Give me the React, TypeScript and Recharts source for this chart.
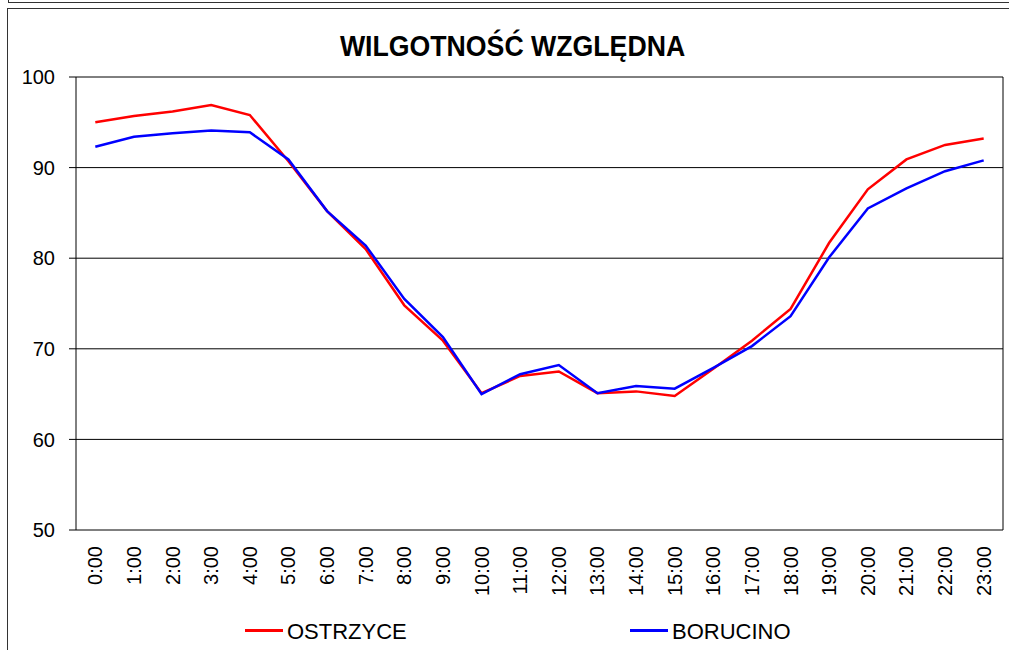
import React from 'react';
import { LineChart, Line, XAxis, YAxis, CartesianGrid, Legend, ReferenceLine } from 'recharts';

const hours = [
  '0:00', '1:00', '2:00', '3:00', '4:00', '5:00', '6:00', '7:00', '8:00', '9:00', '10:00', '11:00',
  '12:00', '13:00', '14:00', '15:00', '16:00', '17:00', '18:00', '19:00', '20:00', '21:00', '22:00', '23:00',
];
const ostrzyce = [
  95.0, 95.7, 96.2, 96.9, 95.8, 90.7, 85.2, 81.0, 74.8, 70.9, 65.1, 67.0,
  67.5, 65.1, 65.3, 64.8, 67.8, 70.9, 74.4, 81.7, 87.6, 90.9, 92.5, 93.2,
];
const borucino = [
  92.3, 93.4, 93.8, 94.1, 93.9, 90.9, 85.2, 81.4, 75.5, 71.3, 65.0, 67.2,
  68.2, 65.1, 65.9, 65.6, 67.9, 70.3, 73.6, 80.1, 85.5, 87.7, 89.6, 90.8,
];
const yTicks = [50, 60, 70, 80, 90, 100];

const data = hours.map((hour, i) => ({ i, hour, ostrzyce: ostrzyce[i], borucino: borucino[i] }));
const hourTicks = hours.map((_, i) => i);
const bandEdges = [...hourTicks.map((i) => i - 0.5), hours.length - 0.5];

const FONT = '"Liberation Sans", Arial, sans-serif';

const HourTick = ({ x, y, payload }: any) => (
  <text
    x={x}
    y={y}
    transform={`rotate(-90 ${x} ${y})`}
    textAnchor="end"
    dominantBaseline="central"
    fontSize={20}
    fontFamily={FONT}
    fill="#000"
  >
    {hours[payload.value]}
  </text>
);

const LegendBox = () => (
  <div style={{ position: 'relative', height: 30, width: 1009, fontFamily: FONT, fontSize: 22 }}>
    <div style={{ position: 'absolute', left: 245, top: 9, width: 38, height: 3, background: '#ff0000' }} />
    <div style={{ position: 'absolute', left: 287, top: -3, lineHeight: '30px' }}>OSTRZYCE</div>
    <div style={{ position: 'absolute', left: 630, top: 9, width: 38, height: 3, background: '#0000ff' }} />
    <div style={{ position: 'absolute', left: 672, top: -3, lineHeight: '30px' }}>BORUCINO</div>
  </div>
);

export default function App() {
  return (
    <div style={{ position: 'absolute', left: 0, top: 0, width: 1009, height: 650, background: '#fff', overflow: 'hidden' }}>
      <div style={{ position: 'absolute', left: 8, top: -10, width: 1020, height: 13, border: '1px solid #333', boxSizing: 'border-box' }} />
      <div style={{ position: 'absolute', left: 7, top: 8, width: 1020, height: 700, border: '1px solid #333', boxSizing: 'border-box' }} />
      <div
        style={{
          position: 'absolute',
          left: 0,
          width: 1025,
          top: 30,
          textAlign: 'center',
          fontFamily: FONT,
          fontWeight: 'bold',
          fontSize: 29,
          lineHeight: '33px',
          transform: 'scaleX(0.92)',
          transformOrigin: '513px 0',
        }}
      >
        WILGOTNOŚĆ WZGLĘDNA
      </div>
      <div style={{ position: 'absolute', left: 0, top: 0 }}>
        <LineChart width={1009} height={650} data={data} margin={{ top: 77, right: 6, left: 0, bottom: 0 }}>
          <CartesianGrid vertical={false} stroke="#000" strokeOpacity={1} />
          <XAxis
            xAxisId="edges"
            dataKey="i"
            type="number"
            domain={[-0.5, 23.5]}
            ticks={bandEdges}
            tick={false}
            tickSize={6}
            tickLine={{ stroke: '#000' }}
            axisLine={{ stroke: '#000' }}
            height={0}
            interval={0}
          />
          <XAxis
            xAxisId="main"
            dataKey="i"
            type="number"
            domain={[-0.5, 23.5]}
            ticks={hourTicks}
            interval={0}
            tick={<HourTick />}
            tickLine={false}
            axisLine={false}
            tickSize={0}
            tickMargin={16}
            height={90}
          />
          <YAxis
            domain={[50, 100]}
            ticks={yTicks}
            interval={0}
            width={76}
            tickSize={7}
            tickMargin={14}
            tickLine={{ stroke: '#000' }}
            axisLine={{ stroke: '#000' }}
            tick={{ fill: '#000', fontSize: 20, fontFamily: FONT }}
          />
          <ReferenceLine xAxisId="main" x={23.5} stroke="#000" />
          <Legend verticalAlign="bottom" content={<LegendBox />} wrapperStyle={{ left: 0, width: 1009, height: 30 }} />
          <Line
            xAxisId="main"
            type="linear"
            dataKey="ostrzyce"
            name="OSTRZYCE"
            stroke="#ff0000"
            strokeWidth={2.5}
            dot={false}
            isAnimationActive={false}
          />
          <Line
            xAxisId="main"
            type="linear"
            dataKey="borucino"
            name="BORUCINO"
            stroke="#0000ff"
            strokeWidth={2.5}
            dot={false}
            isAnimationActive={false}
          />
        </LineChart>
      </div>
    </div>
  );
}
